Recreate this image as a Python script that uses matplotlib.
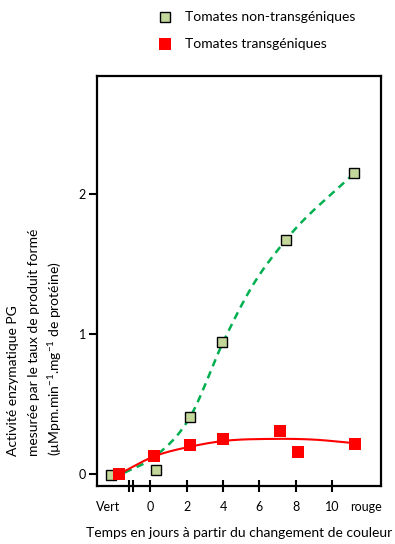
import matplotlib
matplotlib.use("Agg")
import matplotlib.pyplot as plt
import numpy as np

plt.rcParams["font.family"] = ["Lato", "DejaVu Sans"]
plt.rcParams["mathtext.fontset"] = "custom"
plt.rcParams["mathtext.rm"] = "Lato"
plt.rcParams["mathtext.it"] = "Lato:italic"

# measured points (x in days, "Vert" and "rouge" placed left/right of the scale)
green_x = [-2.18, 0.33, 2.19, 3.95, 7.45, 11.2]
green_y = [-0.01, 0.03, 0.41, 0.94, 1.67, 2.145]
red_x = [-1.71, 0.2, 2.17, 3.97, 7.15, 8.1, 11.25]
red_y = [0.0, 0.13, 0.21, 0.25, 0.31, 0.155, 0.215]

# hand-drawn trend curves (knots)
green_trend_x = [-1.4, 0.2, 2.2, 4.0, 5.6, 7.45, 11.2]
green_trend_y = [0.01, 0.12, 0.41, 0.94, 1.34, 1.67, 2.145]
red_trend_x = [-1.71, 0.2, 2.2, 4.0, 6.5, 9.0, 11.2]
red_trend_y = [0.0, 0.125, 0.195, 0.235, 0.25, 0.245, 0.22]

day_ticks = [0, 2, 4, 6, 8, 10]
break_ticks = [-1.17, -0.93]
end_ticks = [-2.34, 11.83]
end_labels = ["Vert", "rouge"]
y_ticks = [0, 1, 2]

ylabel_lines = [
    "Activité enzymatique PG",
    "mesurée par le taux de produit formé",
    r"(µMpm.min$^{-1}$.mg$^{-1}$ de protéine)",
]


def hermite(xk, yk, n=300):
    xk = np.asarray(xk, float)
    yk = np.asarray(yk, float)
    m = np.gradient(yk, xk)
    xs, ys = [], []
    for i in range(len(xk) - 1):
        h = xk[i + 1] - xk[i]
        t = np.linspace(0, 1, n // (len(xk) - 1))
        h00 = 2 * t**3 - 3 * t**2 + 1
        h10 = t**3 - 2 * t**2 + t
        h01 = -2 * t**3 + 3 * t**2
        h11 = t**3 - t**2
        xs.append(xk[i] + t * h)
        ys.append(h00 * yk[i] + h10 * h * m[i] + h01 * yk[i + 1] + h11 * h * m[i + 1])
    return np.concatenate(xs), np.concatenate(ys)


fig = plt.figure(figsize=(3.95, 5.44), dpi=100)
ax = fig.add_axes([0.2456, 0.1066, 0.719, 0.7537])

gx, gy = hermite(green_trend_x, green_trend_y)
rx, ry = hermite(red_trend_x, red_trend_y)
ax.plot(gx, gy, color="#00B050", lw=1.8, dashes=(3, 2.2), zorder=2)
ax.plot(rx, ry, color="#FF0000", lw=1.5, zorder=2)

ax.plot(green_x, green_y, "s", ms=7.5, mfc="#C4D79B", mec="black", mew=1.0,
        ls="none", zorder=3)
ax.plot(red_x, red_y, "s", ms=8, mfc="#FF0000", mec="#FF0000", mew=0,
        ls="none", zorder=4)

ax.set_xlim(-2.93, 12.68)
ax.set_ylim(-0.086, 2.84)

for sp in ax.spines.values():
    sp.set_linewidth(1.6)

ax.set_xticks(day_ticks + break_ticks)
ax.set_xticklabels([str(d) for d in day_ticks] + ["", ""])
ax.set_xticks(end_ticks, end_labels, minor=True)
ax.tick_params(axis="x", which="major", direction="inout", length=8, width=1.5,
               pad=7, labelsize=9)
ax.tick_params(axis="x", which="minor", length=0, pad=11, labelsize=9)
ax.set_yticks(y_ticks)
ax.tick_params(axis="y", direction="out", length=6, width=1.5, pad=2, labelsize=9)

ax.set_xlabel("Temps en jours à partir du changement de couleur", fontsize=10,
              labelpad=10)

for xpos, line in zip([0.034, 0.086, 0.140], ylabel_lines):
    fig.text(xpos, 1 - 456 / 544, line, rotation=90, ha="center",
             va="bottom", fontsize=10)

# legend
fig.lines.append(plt.Line2D([165 / 395], [1 - 17 / 544], marker="s", ms=7.5,
                            mfc="#C4D79B", mec="black", mew=1.0,
                            transform=fig.transFigure))
fig.lines.append(plt.Line2D([165 / 395], [1 - 44 / 544], marker="s", ms=8,
                            mfc="#FF0000", mec="#FF0000", mew=0,
                            transform=fig.transFigure))
fig.text(185 / 395, 1 - 17 / 544, "Tomates non-transgéniques", fontsize=10,
         va="center")
fig.text(185 / 395, 1 - 44 / 544, "Tomates transgéniques", fontsize=10,
         va="center")

fig.savefig("out.png", dpi=100, facecolor="white")
